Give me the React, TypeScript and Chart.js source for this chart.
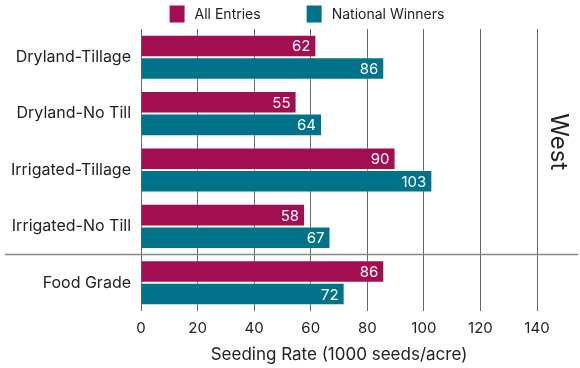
import React, { useEffect, useRef } from 'react';
import { Chart, registerables } from 'chart.js';

Chart.register(...registerables);

const categories = ['Dryland-Tillage', 'Dryland-No Till', 'Irrigated-Tillage', 'Irrigated-No Till', 'Food Grade'];
const allEntries = [62, 55, 90, 58, 86];
const nationalWinners = [86, 64, 103, 67, 72];
const seriesLabels = ['All Entries', 'National Winners'];
const xTickValues = [0, 20, 40, 60, 80, 100, 120, 140];
const regionLabel = 'West';
const axisTitle = 'Seeding Rate (1000 seeds/acre)';

const FONT = 'Inter, "Open Sans", sans-serif';
const MAGENTA = '#A30E50';
const TEAL = '#00738B';
const TEXT = '#222222';
const GRID = '#666666';

const overlay = {
  id: 'overlay',
  afterDatasetsDraw(chart: any) {
    const ctx = chart.ctx;
    chart.data.datasets.forEach((ds: any, di: number) => {
      const meta = chart.getDatasetMeta(di);
      meta.data.forEach((bar: any, i: number) => {
        const { x, y } = bar.getProps(['x', 'y'], true);
        ctx.save();
        ctx.fillStyle = '#ffffff';
        ctx.font = `15px ${FONT}`;
        ctx.textAlign = 'right';
        ctx.textBaseline = 'middle';
        ctx.fillText(String(ds.data[i]), x - 6, y + 1);
        ctx.restore();
      });
    });
  },
  afterDraw(chart: any) {
    const ctx = chart.ctx;
    const area = chart.chartArea;
    const ys = chart.scales.y;
    const sepY = (ys.getPixelForValue(3) + ys.getPixelForValue(4)) / 2;
    ctx.save();
    ctx.strokeStyle = '#888888';
    ctx.lineWidth = 1.5;
    ctx.beginPath();
    ctx.moveTo(5, sepY);
    ctx.lineTo(chart.width - 2, sepY);
    ctx.stroke();

    // region label
    const cx = area.right + (chart.width - area.right) / 2;
    const cy = (area.top + sepY) / 2;
    ctx.translate(cx, cy);
    ctx.rotate(Math.PI / 2);
    ctx.fillStyle = TEXT;
    ctx.font = `24px ${FONT}`;
    ctx.textAlign = 'center';
    ctx.textBaseline = 'middle';
    ctx.fillText(regionLabel, 0, 0);
    ctx.restore();

    // legend
    ctx.save();
    ctx.font = `14px ${FONT}`;
    const boxW = 15;
    const boxH = 17;
    const gapBoxText = 10;
    const gapItems = 46;
    const widths = chart.data.datasets.map((ds: any) => boxW + gapBoxText + ctx.measureText(ds.label).width);
    const total = widths.reduce((a: number, b: number) => a + b, 0) + gapItems * (widths.length - 1);
    let x = (area.left + area.right) / 2 - 32 - total / 2;
    const midY = 14;
    chart.data.datasets.forEach((ds: any, i: number) => {
      ctx.fillStyle = ds.backgroundColor;
      ctx.fillRect(x, midY - boxH / 2, boxW, boxH);
      ctx.fillStyle = TEXT;
      ctx.textAlign = 'left';
      ctx.textBaseline = 'middle';
      ctx.fillText(ds.label, x + boxW + gapBoxText, midY + 1);
      x += widths[i] + gapItems;
    });
    ctx.restore();
  },
};

export default function App() {
  const ref = useRef<HTMLCanvasElement | null>(null);
  useEffect(() => {
    if (!ref.current) return;
    const chart = new Chart(ref.current, {
      type: 'bar',
      data: {
        labels: categories,
        datasets: [
          {
            label: seriesLabels[0],
            data: allEntries,
            backgroundColor: MAGENTA,
            borderColor: 'rgba(255,255,255,0.35)',
            borderWidth: 1,
            categoryPercentage: 0.8,
            barPercentage: 1.0,
          },
          {
            label: seriesLabels[1],
            data: nationalWinners,
            backgroundColor: TEAL,
            borderColor: 'rgba(255,255,255,0.35)',
            borderWidth: 1,
            categoryPercentage: 0.8,
            barPercentage: 1.0,
          },
        ],
      },
      options: {
        indexAxis: 'y',
        animation: false,
        responsive: true,
        maintainAspectRatio: false,
        layout: { padding: { top: 29, right: 43, left: 0, bottom: 0 } },
        plugins: {
          legend: { display: false },
          tooltip: { enabled: false },
        },
        scales: {
          x: {
            min: 0,
            max: 140,
            afterFit: (s: any) => {
              s.height = 57;
            },
            afterBuildTicks: (s: any) => {
              s.ticks = xTickValues.map((v) => ({ value: v }));
            },
            grid: { color: GRID, lineWidth: 1, drawTicks: false },
            border: { display: false },
            ticks: { color: TEXT, font: { family: FONT, size: 15 }, padding: 8 },
            title: {
              display: true,
              text: axisTitle,
              color: TEXT,
              font: { family: FONT, size: 17 },
              padding: { top: 0, bottom: 3 },
            },
          },
          y: {
            afterFit: (s: any) => {
              s.width = 141;
            },
            grid: { display: false, drawTicks: false },
            border: { display: false },
            ticks: { color: TEXT, font: { family: FONT, size: 16 }, padding: 10 },
          },
        },
      },
      plugins: [overlay],
    });
    return () => chart.destroy();
  }, []);
  return (
    <div style={{ position: 'fixed', left: 0, top: 0, width: 580, height: 368, background: '#fff' }}>
      <canvas ref={ref} />
    </div>
  );
}
